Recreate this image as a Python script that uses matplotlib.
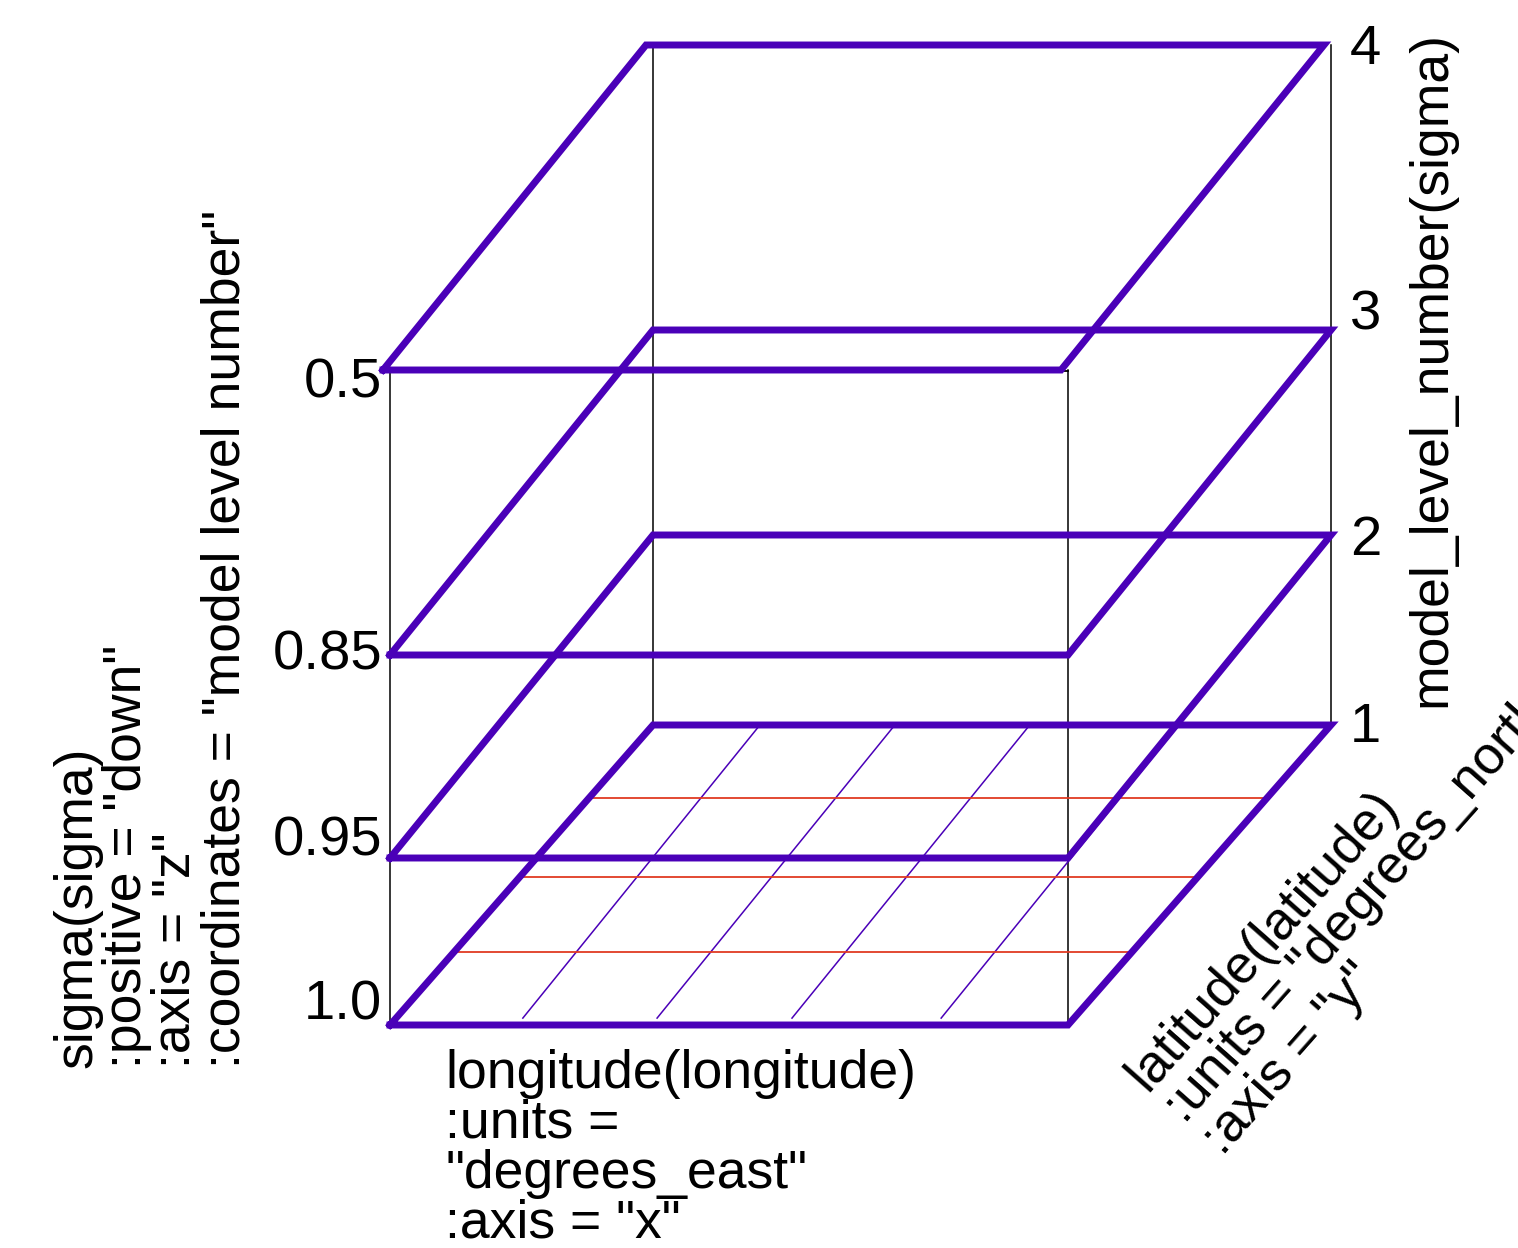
import matplotlib
matplotlib.use("Agg")
import matplotlib.pyplot as plt

plt.rcParams['font.family'] = ['Liberation Sans', 'DejaVu Sans']

# ---------------- data ----------------
sigma_values = [1.0, 0.95, 0.85, 0.5]
level_numbers = [1, 2, 3, 4]
sigma_tick_labels = ["1.0", "0.95", "0.85", "0.5"]
level_tick_labels = ["1", "2", "3", "4"]
lon_front = [0.187, 0.385, 0.584, 0.804]   # longitude grid lines (near edge)
lon_back = [0.158, 0.357, 0.556, 0.776]    # longitude grid lines (far edge)
lat_lines = [0.243, 0.493, 0.757]          # latitude grid lines

left_label = ["sigma(sigma)", ':positive = "down"', ':axis = "z"',
              ':coordinates = "model level number"']
right_label = "model_level_number(sigma)"
bottom_label = ["longitude(longitude)", ":units =", '"degrees_east"', ':axis = "x"']
lat_label = ["latitude(latitude)", ':units = "degrees_north"', ':axis = "y"']

# ---------------- layout (pixels) ----------------
W, H = 1518, 1248
x0, width, depth_dx = 390, 678, 263
front_y = [1025, 858, 655, 370]
back_y = [725, 535, 330, 45]
plane_shift = [0, 0, 0, -7]
sigma_label_y = [1006, 841, 655, 383]
level_label_y = [728, 541, 315, 50]

PURPLE = "#4a00b8"
RED = "#e03a22"
FS = 38.5
FS_TICK = 40.5


def proj(lon, lat, k, shift=True):
    x = x0 + (plane_shift[k] if shift else 0) + lon * width + lat * depth_dx
    y = front_y[k] + lat * (back_y[k] - front_y[k])
    return x, y


fig = plt.figure(figsize=(W / 100, H / 100), dpi=100)
ax = fig.add_axes([0, 0, 1, 1])
ax.set_xlim(0, W)
ax.set_ylim(H, 0)
ax.axis("off")

# black frame of the box
top = len(level_numbers) - 1
for lat in (0, 1):
    for lon in (0, 1):
        xb, yb = proj(lon, lat, 0, shift=False)
        yt = front_y[top] if lat == 0 else back_y[top]
        ax.plot([xb, xb], [yb, yt], color="black", lw=1.1, zorder=1)
for k in (0, top):
    xa, ya = proj(0, 0, k, shift=False)
    xb, yb = proj(1, 0, k, shift=False)
    off = 2 if k == 0 else 1
    ax.plot([xa, xb], [ya + off, yb + off], color="black", lw=1.3, zorder=1)

# grid on lowest level
for lf, lb in zip(lon_front, lon_back):
    xa, ya = proj(lf, 0.023, 0)
    xb, yb = proj(lb, 0.99, 0)
    ax.plot([xa, xb], [ya, yb], color=PURPLE, lw=1.1, zorder=2)
for lt in lat_lines:
    xa, ya = proj(0, lt, 0)
    xb, yb = proj(1, lt, 0)
    ax.plot([xa, xb], [ya, yb], color=RED, lw=1.3, zorder=2)

# level planes
corners = [(0, 0), (1, 0), (1, 1), (0, 1), (0, 0)]
for k in range(len(level_numbers)):
    pts = [proj(lo, la, k) for lo, la in corners]
    ax.plot([p[0] for p in pts], [p[1] for p in pts], color=PURPLE, lw=5,
            solid_joinstyle="miter", zorder=3)

# tick labels
for lab, y in zip(sigma_tick_labels, sigma_label_y):
    ax.text(382, y, lab, ha="right", va="center", fontsize=FS_TICK)
for lab, y in zip(level_tick_labels, level_label_y):
    ax.text(1350, y, lab, ha="left", va="center", fontsize=FS_TICK)

# left rotated label
for i, line in enumerate(left_label):
    ax.text(92 + 49 * i, 1068, line, rotation=90, rotation_mode="anchor",
            ha="left", va="baseline", fontsize=FS)

# right rotated label
ax.text(1445, 707, right_label, rotation=90, rotation_mode="anchor",
        ha="left", va="baseline", fontsize=FS)

# bottom label
for i, line in enumerate(bottom_label):
    ax.text(445, 1088 + 50 * i, line, ha="left", va="baseline", fontsize=FS)

# latitude label (rotated along depth direction)
for i, line in enumerate(lat_label):
    ax.text(1147 + 38 * i, 1093 + 32 * i, line, rotation=48.5,
            rotation_mode="anchor", ha="left", va="baseline", fontsize=FS)

fig.savefig("out.png", dpi=100)
